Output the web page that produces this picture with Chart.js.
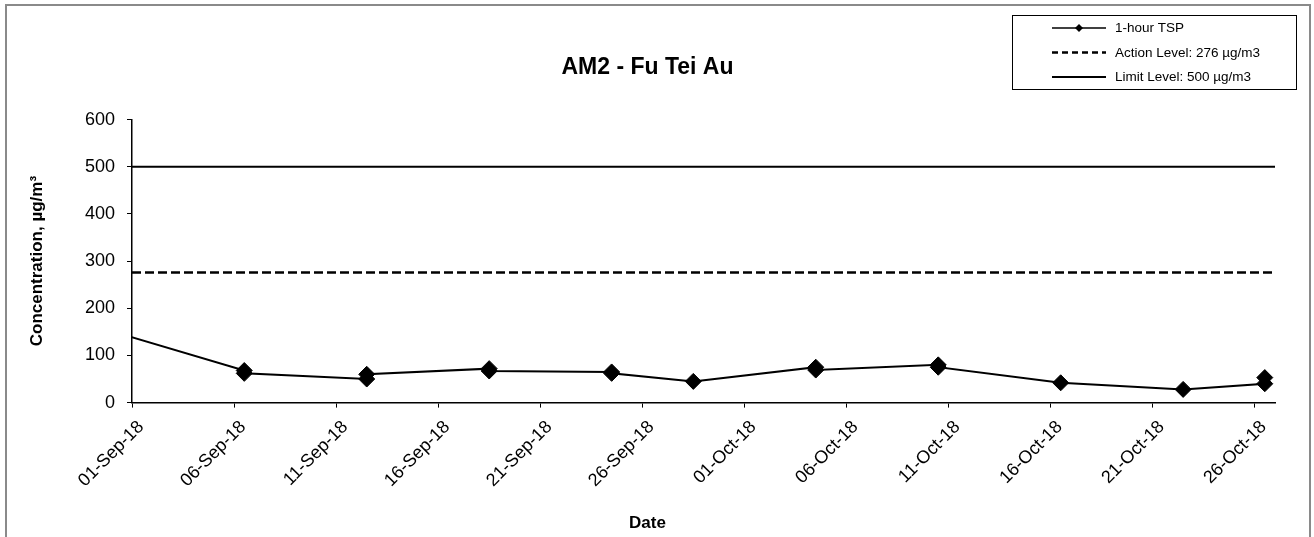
<!DOCTYPE html>
<html>
<head>
<meta charset="utf-8">
<script src="https://cdn.jsdelivr.net/npm/chart.js@4/dist/chart.umd.min.js"></script>
<style>
  html, body { margin: 0; padding: 0; background: #fff; }
  #wrap { width: 1314px; height: 537px; position: relative; }
</style>
</head>
<body>
<div id="wrap"><canvas id="c" width="1314" height="537"></canvas></div>
<script>
// ---------------- data ----------------
const chartTitle = 'AM2 - Fu Tei Au';
const xAxisTitle = 'Date';
const yAxisTitle = 'Concentration, µg/m³';
const seriesLabels = ['1-hour TSP', 'Action Level: 276 µg/m3', 'Limit Level: 500 µg/m3'];

const sampleTimes = [
  '2018-08-31T12:00', '2018-09-06T12:00', '2018-09-06T12:00',
  '2018-09-12T12:00', '2018-09-12T12:00', '2018-09-18T12:00', '2018-09-18T12:00',
  '2018-09-24T12:00', '2018-09-24T12:00', '2018-09-28T12:00',
  '2018-10-04T12:00', '2018-10-04T12:00', '2018-10-10T12:00', '2018-10-10T12:00',
  '2018-10-16T12:00', '2018-10-22T12:00', '2018-10-26T12:00', '2018-10-26T12:00'
];
const tspValues = [
  145, 68, 62,
  50, 60, 72, 67,
  65, 62, 45,
  75, 69, 80, 75,
  42, 28, 40, 53
];
const actionLevel = 276;
const limitLevel = 500;

const axisStart = '2018-09-01T00:00';
const axisEnd = '2018-10-27T00:00';
const xTickDates = ['2018-09-01', '2018-09-06', '2018-09-11', '2018-09-16', '2018-09-21', '2018-09-26',
                    '2018-10-01', '2018-10-06', '2018-10-11', '2018-10-16', '2018-10-21', '2018-10-26'];
const xTickLabels = ['01-Sep-18', '06-Sep-18', '11-Sep-18', '16-Sep-18', '21-Sep-18', '26-Sep-18',
                     '01-Oct-18', '06-Oct-18', '11-Oct-18', '16-Oct-18', '21-Oct-18', '26-Oct-18'];
const yTickValues = [0, 100, 200, 300, 400, 500, 600];

// ---------------- helpers ----------------
const DAY = 86400000;
const t0 = Date.parse(axisStart + 'Z');
const dayOf = s => (Date.parse((s.length === 10 ? s + 'T00:00' : s) + 'Z') - t0) / DAY;
const xMin = dayOf(axisStart), xMax = dayOf(axisEnd);
const xTickVals = xTickDates.map(dayOf);

const tspPoints = sampleTimes.map((t, i) => ({ x: dayOf(t), y: tspValues[i] }));
const actionPoints = [{ x: xMin, y: actionLevel }, { x: xMax, y: actionLevel }];
const limitPoints = [{ x: xMin, y: limitLevel }, { x: xMax, y: limitLevel }];

const FONT = "'Liberation Sans', Arial, Helvetica, sans-serif";

// frame + legend plugin
const framePlugin = {
  id: 'frame',
  beforeDraw(chart) {
    const ctx = chart.ctx;
    ctx.save();
    ctx.fillStyle = '#fff';
    ctx.fillRect(0, 0, chart.width, chart.height);
    ctx.strokeStyle = '#8a8a8a';
    ctx.lineWidth = 2;
    ctx.strokeRect(6, 5, 1304, 540);
    ctx.restore();
  },
  afterDraw(chart) {
    const ctx = chart.ctx;
    ctx.save();
    const bx = 1012, by = 15, bw = 284, bh = 74;
    ctx.strokeStyle = '#000';
    ctx.lineWidth = 1;
    ctx.setLineDash([]);
    ctx.strokeRect(bx + 0.5, by + 0.5, bw, bh);
    ctx.font = '13.5px ' + FONT;
    ctx.textBaseline = 'middle';
    ctx.textAlign = 'left';
    chart.data.datasets.forEach((ds, i) => {
      const y = 28 + i * 24.5;
      ctx.strokeStyle = ds.borderColor;
      ctx.lineWidth = ds.legendLineWidth || ds.borderWidth;
      ctx.setLineDash(ds.legendDash || []);
      ctx.beginPath();
      ctx.moveTo(1052, y);
      ctx.lineTo(1106, y);
      ctx.stroke();
      ctx.setLineDash([]);
      if (ds.pointRadius > 0) {
        ctx.fillStyle = ds.pointBackgroundColor;
        const r = 4;
        ctx.beginPath();
        ctx.moveTo(1079, y - r);
        ctx.lineTo(1079 + r, y);
        ctx.lineTo(1079, y + r);
        ctx.lineTo(1079 - r, y);
        ctx.closePath();
        ctx.fill();
      }
      ctx.fillStyle = '#000';
      ctx.fillText(ds.label, 1115, y + 0.5);
    });
    ctx.restore();
  }
};

new Chart(document.getElementById('c'), {
  type: 'line',
  data: {
    datasets: [
      {
        label: seriesLabels[0],
        data: tspPoints,
        borderColor: '#000',
        borderWidth: 2,
        legendLineWidth: 1.5,
        pointStyle: 'rectRot',
        pointRadius: 8,
        pointBackgroundColor: '#000',
        pointBorderColor: '#000',
        pointBorderWidth: 1,
        tension: 0,
        fill: false
      },
      {
        label: seriesLabels[1],
        data: actionPoints,
        borderColor: '#000',
        borderWidth: 2.5,
        borderDash: [9, 4],
        legendDash: [6, 4],
        pointRadius: 0,
        fill: false
      },
      {
        label: seriesLabels[2],
        data: limitPoints,
        borderColor: '#000',
        borderWidth: 2,
        pointRadius: 0,
        fill: false
      }
    ]
  },
  options: {
    responsive: false,
    animation: false,
    devicePixelRatio: 1,
    layout: { padding: { left: 20, right: 39, top: 0, bottom: 0 } },
    plugins: {
      legend: { display: false },
      tooltip: { enabled: false },
      title: {
        display: true,
        text: chartTitle,
        color: '#000',
        font: { family: FONT, size: 23, weight: 'bold' },
        padding: { top: 54, bottom: 38 }
      },
      subtitle: {
        display: true,
        position: 'bottom',
        text: xAxisTitle,
        color: '#000',
        font: { family: FONT, size: 17, weight: 'bold' },
        padding: { top: 0, bottom: 3 }
      }
    },
    scales: {
      x: {
        type: 'linear',
        min: xMin,
        max: xMax,
        afterBuildTicks: s => { s.ticks = xTickVals.map(v => ({ value: v })); },
        afterFit: s => { s.height = 111; },
        grid: { display: true, drawOnChartArea: false, drawTicks: true, tickLength: 5, color: '#000', lineWidth: 1 },
        border: { display: true, color: '#000', width: 1.5 },
        ticks: {
          autoSkip: false,
          minRotation: 45,
          maxRotation: 45,
          color: '#000',
          padding: 9,
          labelOffset: 9,
          font: { family: FONT, size: 18 },
          callback: (v, i) => xTickLabels[i]
        }
      },
      y: {
        min: 0,
        max: 600,
        afterBuildTicks: s => { s.ticks = yTickValues.map(v => ({ value: v })); },
        afterFit: s => { s.width = 112; },
        grid: { display: true, drawOnChartArea: false, drawTicks: true, tickLength: 5, color: '#000', lineWidth: 1 },
        border: { display: true, color: '#000', width: 1.5 },
        ticks: {
          color: '#000',
          padding: 12,
          font: { family: FONT, size: 18 }
        },
        title: {
          display: true,
          text: yAxisTitle,
          color: '#000',
          font: { family: FONT, size: 17, weight: 'bold' },
          padding: { top: 7, bottom: 0 }
        }
      }
    }
  },
  plugins: [framePlugin]
});
</script>
</body>
</html>
